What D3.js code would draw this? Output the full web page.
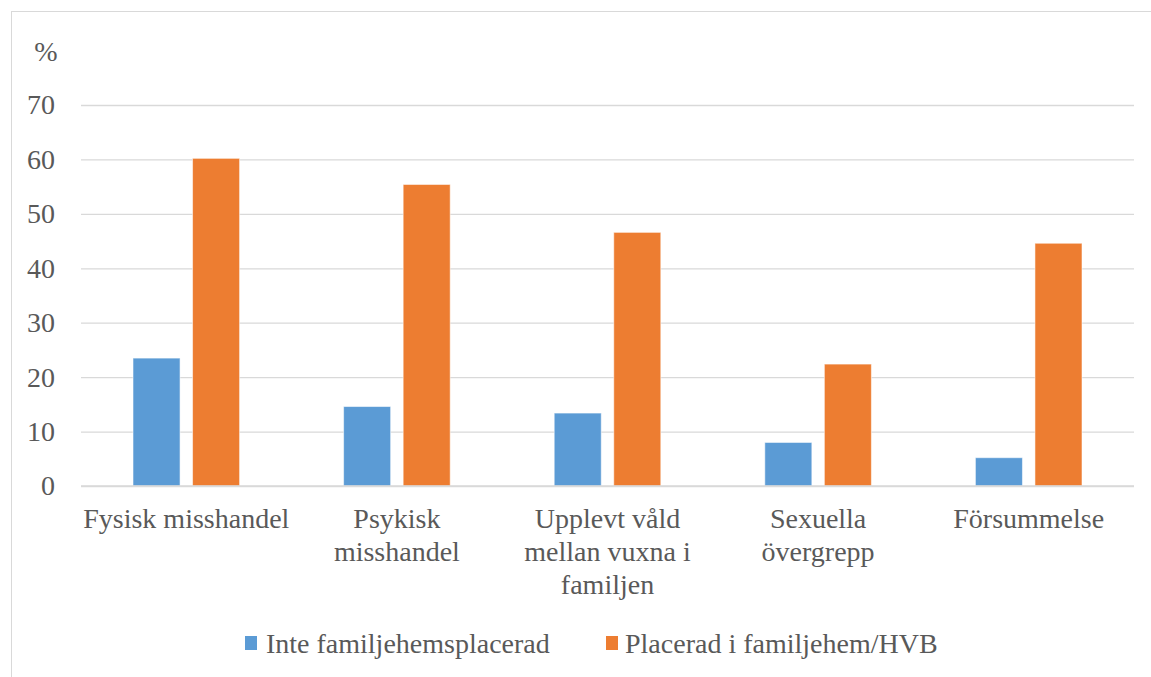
<!DOCTYPE html>
<html><head><meta charset="utf-8">
<script src="https://cdn.jsdelivr.net/npm/d3@7/dist/d3.min.js"></script>
<style>
html, body { margin: 0; padding: 0; background: #fff; }
svg { display: block; }
svg text, svg tspan { font-family: "Liberation Serif", "Times New Roman", serif !important; }
</style>
</head><body>
<script>
const categories = ["Fysisk misshandel", "Psykisk misshandel", "Upplevt våld mellan vuxna i familjen", "Sexuella övergrepp", "Försummelse"];
const categoryLines = [["Fysisk misshandel"], ["Psykisk", "misshandel"], ["Upplevt våld", "mellan vuxna i", "familjen"], ["Sexuella", "övergrepp"], ["Försummelse"]];
const seriesNames = ["Inte familjehemsplacerad", "Placerad i familjehem/HVB"];
const inteValues = [23.5, 14.6, 13.4, 8.0, 5.2];
const placeradValues = [60.2, 55.4, 46.6, 22.4, 44.6];
const yTicks = [0, 10, 20, 30, 40, 50, 60, 70];
const yUnit = "%";
const colors = ["#5b9bd5", "#ed7d31"];

(function () {
const W = 1151, H = 677;
const font = "Liberation Serif";
const fs = 28;
const textColor = "#595959";
const svg = d3.select("body").append("svg").attr("width", W).attr("height", H)
  .attr("font-family", font);

svg.append("rect").attr("x", 11.5).attr("y", 11.5).attr("width", W).attr("height", H)
  .attr("fill", "#fff").attr("stroke", "#d9d9d9").attr("stroke-width", 1);

const pLeft = 81, pRight = 1134, pTop = 105, pBottom = 486;
const y = d3.scaleLinear().domain([0, 70]).range([pBottom, pTop]);
const x0 = d3.scaleBand().domain(categories).range([pLeft, pRight]).paddingInner(0).paddingOuter(0);
const x1 = d3.scaleBand().domain([0, 1]).range([52, x0.bandwidth() - 52]).paddingInner(0.21).paddingOuter(0);

const yAxis = d3.axisLeft(y).tickValues(yTicks).tickSize(-(pRight - pLeft)).tickPadding(26).tickFormat(d3.format("d"));
const gy = svg.append("g").attr("transform", `translate(${pLeft},0)`).call(yAxis)
  .attr("font-family", font).attr("font-size", fs);
gy.select(".domain").remove();
gy.selectAll(".tick line").attr("stroke", "#d9d9d9").attr("stroke-width", 1.3);
gy.selectAll(".tick text").attr("fill", textColor).attr("font-family", font).attr("font-size", fs);

svg.append("text").attr("x", 46).attr("y", 61).attr("text-anchor", "middle")
  .attr("fill", textColor).attr("font-family", font).attr("font-size", fs).text(yUnit);

const data = categories.map((c, i) => ({c, vals: [inteValues[i], placeradValues[i]]}));
const g = svg.append("g");
data.forEach(d => {
  d.vals.forEach((v, k) => {
    g.append("rect")
      .attr("x", x0(d.c) + x1(k))
      .attr("y", y(v))
      .attr("width", x1.bandwidth())
      .attr("height", y(0) - y(v))
      .attr("fill", colors[k])
      .attr("stroke", "rgba(255,255,255,0.55)").attr("stroke-width", 1);
  });
});

svg.append("line").attr("x1", pLeft).attr("x2", pRight).attr("y1", y(0)).attr("y2", y(0))
  .attr("stroke", "#d9d9d9").attr("stroke-width", 1.3);

categories.forEach((c, i) => {
  const t = svg.append("text").attr("text-anchor", "middle")
    .attr("fill", textColor).attr("font-family", font).attr("font-size", fs);
  categoryLines[i].forEach((ln, j) => {
    t.append("tspan").attr("x", x0(c) + x0.bandwidth() / 2).attr("y", 528 + j * 33).text(ln);
  });
});

const legendItems = [{x: 245, tx: 266}, {x: 606, tx: 625}];
seriesNames.forEach((s, k) => {
  svg.append("rect").attr("x", legendItems[k].x).attr("y", 636).attr("width", 12).attr("height", 14).attr("fill", colors[k]);
  svg.append("text").attr("x", legendItems[k].tx).attr("y", 653).attr("fill", textColor)
    .attr("font-family", font).attr("font-size", fs).text(s);
});
})();
</script>
</body></html>
